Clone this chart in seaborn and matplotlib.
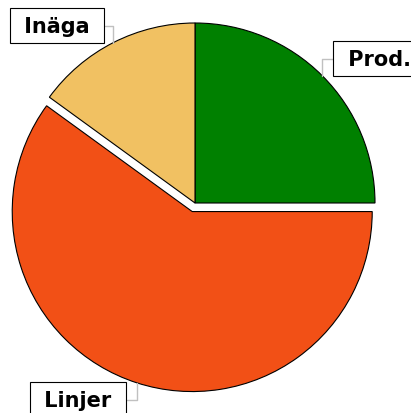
import numpy as np
import matplotlib
matplotlib.use("Agg")
import matplotlib.pyplot as plt
import seaborn as sns

# data (clockwise from 12 o'clock)
labels = ["Prod.", "Linjer", "Inäga"]
values = [25, 60, 15]
colors = ["#008000", "#F25016", "#F1C162"]
explode = [0, 0.05, 0]

# label box positions (data units, pie radius = 1)
label_pos = {
    "Prod.": (0.81, 0.801, "left"),
    "Linjer": (-0.649, -1.092, "center"),
    "Inäga": (-0.767, 0.985, "center"),
}

sns.set_theme(style="white")
plt.rcParams["font.family"] = ["DejaVu Sans"]

fig = plt.figure(figsize=(4.11, 4.14), dpi=100)
ax = fig.add_axes([0, 0, 1, 1])

wedges, _ = ax.pie(
    values,
    colors=colors,
    explode=explode,
    startangle=90,
    counterclock=False,
    radius=1,
    wedgeprops=dict(edgecolor="black", linewidth=0.8),
)

for w, lab, ex in zip(wedges, labels, explode):
    mid = np.deg2rad((w.theta1 + w.theta2) / 2)
    cx, cy = w.center
    px, py = cx + np.cos(mid), cy + np.sin(mid)
    tx, ty, ha = label_pos[lab]
    # the right-hand label runs off the edge in the original, so no trailing pad
    txt = f" {lab}" if ha == "left" else f" {lab} "
    ax.annotate(
        txt,
        xy=(px, py),
        xytext=(tx, ty),
        ha=ha,
        va="center",
        fontsize=15,
        fontweight="bold",
        color="black",
        annotation_clip=False,
        bbox=dict(boxstyle="square,pad=0.36", fc="white", ec="black", lw=0.8),
        arrowprops=dict(
            arrowstyle="-",
            color="#c0c0c0",
            lw=1,
            shrinkA=0,
            shrinkB=0,
            connectionstyle="angle,angleA=0,angleB=90,rad=0",
        ),
    )

ax.set_xlim(-195 / 180, (411 - 195) / 180)
ax.set_ylim(-210 / 180, 204 / 180)
ax.set_aspect("auto")
ax.axis("off")

fig.savefig("out.png", dpi=100)
